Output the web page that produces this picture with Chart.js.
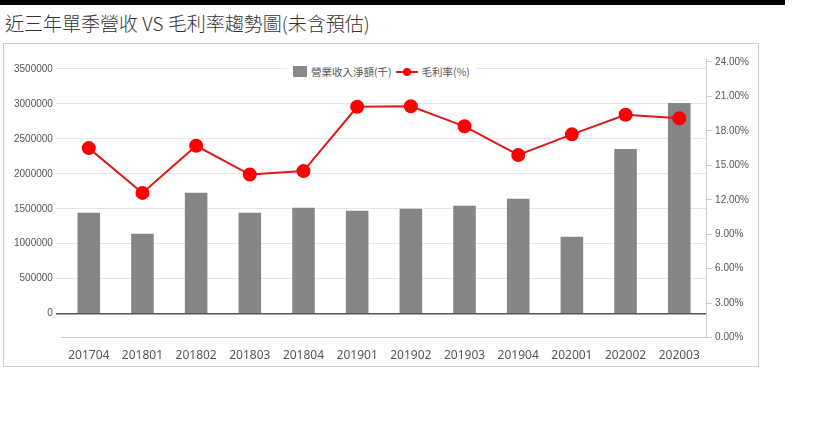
<!DOCTYPE html>
<html><head><meta charset="utf-8">
<script src="https://cdn.jsdelivr.net/npm/chart.js@4/dist/chart.umd.min.js"></script>
<style>
body{margin:0;background:#fff;width:820px;height:437px;position:relative;overflow:hidden;font-family:"Noto Sans CJK TC","Noto Sans",sans-serif}
#bar{position:absolute;left:0;top:0;width:785px;height:5px;background:#000}
#title{position:absolute;left:5px;top:9px;font-size:19px;color:#333;font-weight:300}
#box{position:absolute;left:3px;top:43px;width:756px;height:324px;border:1px solid #ccc;box-sizing:border-box}
#legend{position:absolute;left:287px;top:64px;font-size:10.5px;color:#555;background:#fff;padding:0 6px;display:flex;align-items:center;gap:4px}
</style></head><body>
<div id="bar"></div>
<div id="title">近三年單季營收 VS 毛利率趨勢圖(未含預估)</div>
<div id="box"><canvas id="c" width="754" height="322"></canvas></div>
<div id="legend"><span style="display:inline-block;width:14px;height:11px;background:#888"></span><span>營業收入淨額(千)</span>
<svg width="22" height="10"><line x1="0" y1="5" x2="22" y2="5" stroke="#e21818" stroke-width="2"/><circle cx="11" cy="5" r="4" fill="#f00"/></svg><span>毛利率(%)</span></div>
<script>
const categories=["201704","201801","201802","201803","201804","201901","201902","201903","201904","202001","202002","202003"];
const revenue=[1443000,1143000,1729000,1443000,1514000,1471000,1500000,1543000,1643000,1100000,2357000,3014000];
const margin=[16.5,12.6,16.7,14.2,14.5,20.1,20.15,18.4,15.9,17.7,19.4,19.1];
const leftTicks=[0,500000,1000000,1500000,2000000,2500000,3000000,3500000];
const rightTicks=[0,3,6,9,12,15,18,21,24];
new Chart(document.getElementById('c'),{
 data:{labels:categories,datasets:[
  {type:'line',label:'毛利率(%)',data:margin,yAxisID:'y1',borderColor:'#e21818',borderWidth:2,backgroundColor:'#f00',pointRadius:6,pointBackgroundColor:'#f00',pointBorderColor:'#f00',tension:0},
  {type:'bar',label:'營業收入淨額(千)',data:revenue,yAxisID:'y',backgroundColor:'#858585',barPercentage:0.42,categoryPercentage:1}
 ]},
 options:{responsive:false,animation:false,
  layout:{padding:{top:15,left:7,right:6,bottom:0}},
  plugins:{legend:{display:false},tooltip:{enabled:false}},
  scales:{
   x:{grid:{display:false,drawTicks:true},border:{color:'#ccc'},ticks:{color:'#555',font:{size:12,family:'"Noto Sans","Open Sans",sans-serif'}}},
   y:{position:'left',min:-343000,max:3643000,
      afterBuildTicks:a=>{a.ticks=leftTicks.map(v=>({value:v}))},
      grid:{color:c=>c.tick&&c.tick.value===0?'#555':'#e4e4e4',lineWidth:c=>c.tick&&c.tick.value===0?1.5:1,tickLength:6},
      border:{display:false},ticks:{color:'#555',font:{size:10},callback:v=>String(v)}},
   y1:{position:'right',min:0,max:24.26,
      afterBuildTicks:a=>{a.ticks=rightTicks.map(v=>({value:v}))},
      grid:{drawOnChartArea:false,tickLength:6,color:'#ccc'},border:{color:'#ccc'},
      ticks:{color:'#555',font:{size:10},callback:v=>v.toFixed(2)+'%'}}
  }}
});
</script></body></html>
